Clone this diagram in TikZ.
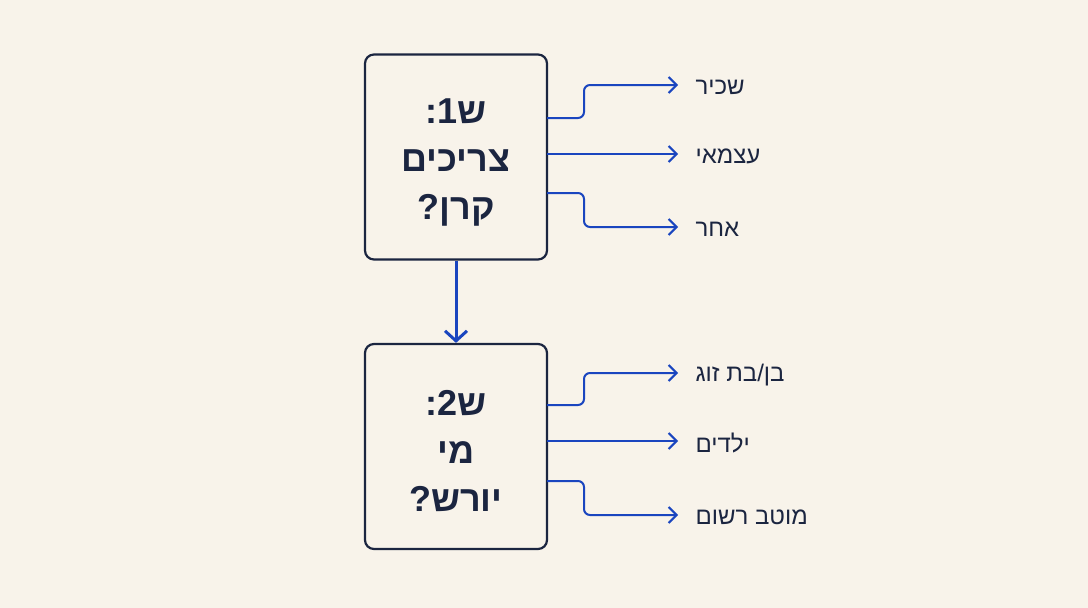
\documentclass[tikz,border=0pt]{standalone}
\usepackage{fontspec}
\setmainfont{Liberation Sans}
\newfontfamily\heb[Script=Hebrew]{Liberation Sans}
\TeXXeTstate=1
\usetikzlibrary{arrows.meta}
\definecolor{bg}{HTML}{F8F3EA}
\definecolor{ink}{HTML}{1B2540}
\definecolor{blu}{HTML}{1A45BF}
\tikzset{
  qbox/.style={draw=ink,line width=2.2pt,rounded corners=9pt,minimum width=182pt,minimum height=205pt,
    align=center,font=\heb\bfseries\fontsize{36}{48}\selectfont,text=ink},
  qtxt/.style={align=center,font=\heb\bfseries\fontsize{36}{48}\selectfont,text=ink},
  br/.style={draw=blu,line width=2pt,rounded corners=6pt,-{Straight Barb[length=8pt,width=16pt,line width=2pt]}},
  lab/.style={anchor=west,font=\heb\fontsize{24}{26}\selectfont,text=ink}
}
\begin{document}
\begin{tikzpicture}[x=1pt,y=-1pt]
\fill[bg] (0,0) rectangle (1088,608);
\useasboundingbox (0,0) rectangle (1088,608);
\node[qbox] (q1) at (456,157) {};
\node[qbox] (q2) at (456,446.5) {};
\node[qtxt] (t1) at (456,162) {\beginR ש1:\endR\\\beginR צריכים\endR\\\beginR קרן?\endR};
\node[qtxt] (t2) at (456,451) {\beginR ש2:\endR\\\beginR מי\endR\\\beginR יורש?\endR};
\draw[blu,line width=3pt,-{Straight Barb[length=10pt,width=22pt,line width=3pt]}] (q1.south) -- (q2.north);
\foreach \ya/\yb/\t [count=\i] in {118/85/{שכיר},193/227/{אחר},405/373/{בן/בת זוג},481/515/{מוטב רשום}}{
  \coordinate (s\i) at (547,\ya);
  \node[lab] (l\i) at (692,\yb+2) {\beginR \t\endR};
  \coordinate (e\i) at (678,\yb);
  \draw[br] (s\i) -- (584,\ya) -- (584,\yb) -- (e\i);
}
\foreach \y/\t [count=\i] in {154/{עצמאי},441/{ילדים}}{
  \coordinate (m\i) at (547,\y);
  \node[lab] (k\i) at (692,\y+2) {\beginR \t\endR};
  \coordinate (f\i) at (678,\y);
  \draw[br] (m\i) -- (f\i);
}
\end{tikzpicture}
\end{document}
